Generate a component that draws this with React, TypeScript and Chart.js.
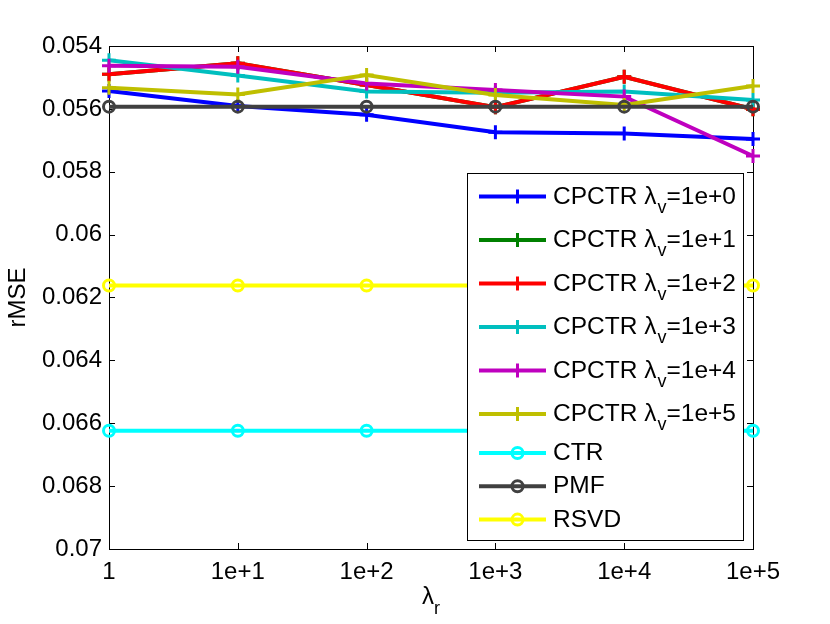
import { useEffect, useRef } from "react";
import { Chart, registerables, type Plugin } from "chart.js";

Chart.register(...registerables);

// lambda_r values on the x axis
const lambdaR = ["1", "1e+1", "1e+2", "1e+3", "1e+4", "1e+5"];
const yTicks = [0.054, 0.056, 0.058, 0.06, 0.062, 0.064, 0.066, 0.068, 0.07];

const cpctr0 = [0.05543, 0.05591, 0.05619, 0.05674, 0.05678, 0.05696];
const cpctr1 = [0.0549, 0.05455, 0.05524, 0.05595, 0.05498, 0.05601];
const cpctr2 = [0.0549, 0.05455, 0.05524, 0.05595, 0.05498, 0.05601];
const cpctr3 = [0.05445, 0.05494, 0.05545, 0.05549, 0.05545, 0.05572];
const cpctr4 = [0.05463, 0.05466, 0.05519, 0.0554, 0.05561, 0.0575];
const cpctr5 = [0.05533, 0.05554, 0.05492, 0.05556, 0.05588, 0.05527];
const ctr = [0.06624, 0.06624, 0.06624, 0.06624, 0.06624, 0.06624];
const pmf = [0.05593, 0.05593, 0.05593, 0.05593, 0.05593, 0.05593];
const rsvd = [0.06162, 0.06162, 0.06162, 0.06162, 0.06162, 0.06162];

const FONT = "'Liberation Sans', Arial, Helvetica, sans-serif";

type Series = { label: string; sub?: string; rest?: string; data: number[]; color: string; marker: "cross" | "circle" };

const series: Series[] = [
  { label: "CPCTR \u03bb", sub: "v", rest: "=1e+0", data: cpctr0, color: "#0000ff", marker: "cross" },
  { label: "CPCTR \u03bb", sub: "v", rest: "=1e+1", data: cpctr1, color: "#008000", marker: "cross" },
  { label: "CPCTR \u03bb", sub: "v", rest: "=1e+2", data: cpctr2, color: "#ff0000", marker: "cross" },
  { label: "CPCTR \u03bb", sub: "v", rest: "=1e+3", data: cpctr3, color: "#00bfbf", marker: "cross" },
  { label: "CPCTR \u03bb", sub: "v", rest: "=1e+4", data: cpctr4, color: "#bf00bf", marker: "cross" },
  { label: "CPCTR \u03bb", sub: "v", rest: "=1e+5", data: cpctr5, color: "#bfbf00", marker: "cross" },
  { label: "CTR", data: ctr, color: "#00ffff", marker: "circle" },
  { label: "PMF", data: pmf, color: "#404040", marker: "circle" },
  { label: "RSVD", data: rsvd, color: "#ffff00", marker: "circle" }
];

const frame: Plugin<"line"> = {
  id: "frame",
  beforeDatasetsDraw(chart) {
    const { ctx, chartArea: a } = chart;
    const x = chart.scales.x;
    const y = chart.scales.y;
    ctx.save();
    ctx.strokeStyle = "#000";
    ctx.lineWidth = 1;
    ctx.strokeRect(Math.round(a.left) + 0.5, Math.round(a.top) + 0.5, Math.round(a.width), Math.round(a.height));
    ctx.beginPath();
    x.ticks.forEach((_, i) => {
      const px = Math.round(x.getPixelForTick(i)) + 0.5;
      ctx.moveTo(px, a.bottom);
      ctx.lineTo(px, a.bottom - 6);
      ctx.moveTo(px, a.top);
      ctx.lineTo(px, a.top + 6);
    });
    y.ticks.forEach((t) => {
      const py = Math.round(y.getPixelForValue(t.value)) + 0.5;
      ctx.moveTo(a.left, py);
      ctx.lineTo(a.left + 6, py);
      ctx.moveTo(a.right, py);
      ctx.lineTo(a.right - 6, py);
    });
    ctx.stroke();

    // axis titles
    ctx.fillStyle = "#000";
    ctx.font = `24px ${FONT}`;
    ctx.textAlign = "center";
    ctx.textBaseline = "middle";
    ctx.save();
    ctx.translate(18, (a.top + a.bottom) / 2);
    ctx.rotate(-Math.PI / 2);
    ctx.fillText("rMSE", 0, 0);
    ctx.restore();
    const cx = (a.left + a.right) / 2;
    ctx.textAlign = "left";
    ctx.textBaseline = "alphabetic";
    ctx.font = `24px ${FONT}`;
    const lw = ctx.measureText("\u03bb").width;
    ctx.font = `18px ${FONT}`;
    const rw = ctx.measureText("r").width;
    const sx = cx - (lw + rw) / 2;
    ctx.font = `24px ${FONT}`;
    ctx.fillText("\u03bb", sx, 604);
    ctx.font = `18px ${FONT}`;
    ctx.fillText("r", sx + lw, 614);
    ctx.restore();
  }
};

const legendBox: Plugin<"line"> = {
  id: "legendBox",
  afterDraw(chart) {
    const { ctx } = chart;
    ctx.save();
    ctx.fillStyle = "#fff";
    ctx.fillRect(467, 173, 276, 367);
    ctx.strokeStyle = "#000";
    ctx.lineWidth = 1;
    ctx.strokeRect(467.5, 173.5, 276, 367);
    let rowY = 196.5;
    series.forEach((s, i) => {
      if (i > 0) rowY += s.sub ? 43.5 : series[i - 1].sub ? 39 : 33.3;
      ctx.strokeStyle = s.color;
      ctx.lineWidth = 4;
      ctx.beginPath();
      ctx.moveTo(479, rowY);
      ctx.lineTo(546, rowY);
      ctx.stroke();
      ctx.lineWidth = 3;
      ctx.beginPath();
      if (s.marker === "cross") {
        ctx.moveTo(517.5 - 7, rowY);
        ctx.lineTo(517.5 + 7, rowY);
        ctx.moveTo(517.5, rowY - 7);
        ctx.lineTo(517.5, rowY + 7);
      } else {
        ctx.arc(517.5, rowY, 5.5, 0, Math.PI * 2);
      }
      ctx.stroke();
      ctx.fillStyle = "#000";
      ctx.textAlign = "left";
      ctx.textBaseline = "alphabetic";
      ctx.font = `24.5px ${FONT}`;
      let tx = 553;
      ctx.fillText(s.label, tx, rowY + 7);
      tx += ctx.measureText(s.label).width;
      if (s.sub) {
        ctx.font = `18px ${FONT}`;
        ctx.fillText(s.sub, tx + 1, rowY + 16);
        tx += ctx.measureText(s.sub).width + 1;
        ctx.font = `24.5px ${FONT}`;
        ctx.fillText(s.rest ?? "", tx, rowY + 7);
      }
    });
    ctx.restore();
  }
};

export default function App() {
  const canvasRef = useRef<HTMLCanvasElement | null>(null);

  useEffect(() => {
    document.body.style.margin = "0";
    const canvas = canvasRef.current;
    if (!canvas) return;
    const chart = new Chart(canvas, {
      type: "line",
      data: {
        labels: lambdaR,
        datasets: series.map((s, i) => ({
          label: s.label + (s.sub ?? "") + (s.rest ?? ""),
          data: s.data,
          borderColor: s.color,
          backgroundColor: "transparent",
          borderWidth: 4,
          pointStyle: s.marker,
          pointRadius: s.marker === "cross" ? 7 : 5.5,
          pointBorderWidth: 3,
          pointBorderColor: s.color,
          pointBackgroundColor: "transparent",
          tension: 0,
          clip: false as const,
          order: series.length - i
        }))
      },
      options: {
        animation: false,
        responsive: false,
        events: [],
        layout: { padding: { top: 46, right: 77, left: 0, bottom: 0 } },
        plugins: { legend: { display: false }, tooltip: { enabled: false } },
        scales: {
          x: {
            type: "category",
            offset: false,
            grid: { display: false, drawTicks: false },
            border: { display: false },
            ticks: {
              color: "#000",
              font: { family: FONT, size: 24 },
              padding: 9,
              maxRotation: 0,
              autoSkip: false
            },
            afterFit: (s) => {
              s.height = 75;
            }
          },
          y: {
            reverse: true,
            min: 0.054,
            max: 0.07,
            grid: { display: false, drawTicks: false },
            border: { display: false },
            afterBuildTicks: (s) => {
              s.ticks = yTicks.map((v) => ({ value: v }));
            },
            ticks: {
              color: "#000",
              font: { family: FONT, size: 24 },
              padding: 7,
              callback: (v) => String(Number(Number(v).toFixed(3)))
            },
            afterFit: (s) => {
              s.width = 109;
            }
          }
        }
      },
      plugins: [frame, legendBox]
    });
    return () => chart.destroy();
  }, []);

  return (
    <div style={{ width: 830, height: 624, background: "#fff" }}>
      <canvas ref={canvasRef} width={830} height={624} />
    </div>
  );
}
